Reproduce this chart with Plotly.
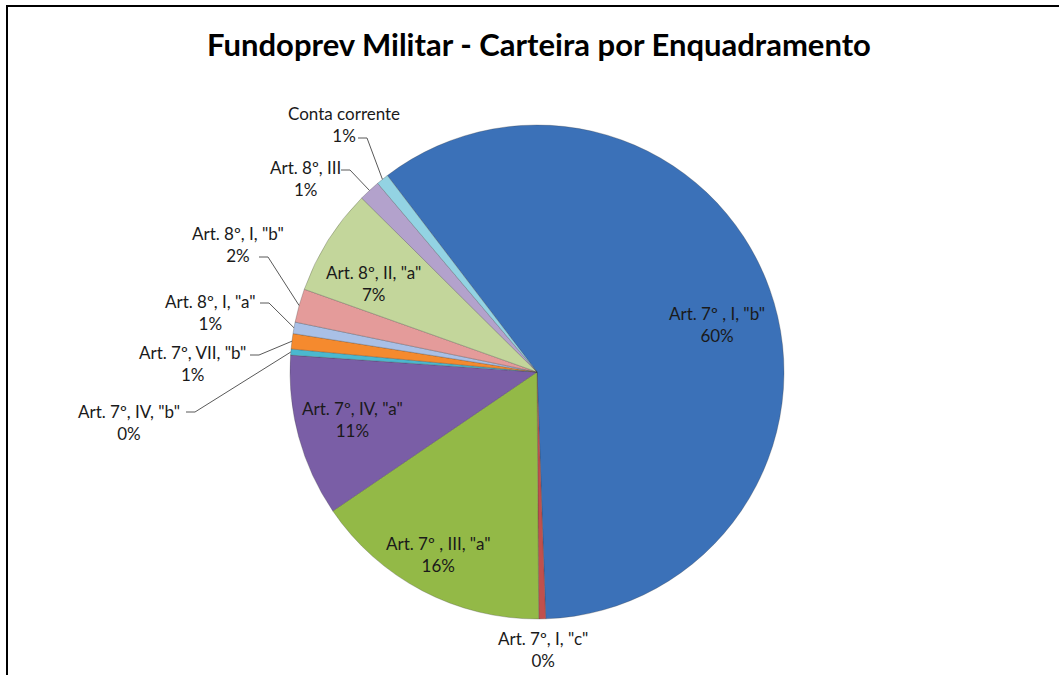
import math
import plotly.graph_objects as go

# ---------------- data ----------------
categories = [
    'Art. 7º , I, "b"',
    'Art. 7º, I, "c"',
    'Art. 7º , III, "a"',
    'Art. 7º, IV, "a"',
    'Art. 7º, IV, "b"',
    'Art. 7º, VII, "b"',
    'Art. 8º, I, "a"',
    'Art. 8º, I, "b"',
    'Art. 8º, II, "a"',
    'Art. 8º, III',
    'Conta corrente',
]
shares = [59.8, 0.45, 15.6, 10.6, 0.4, 1.0, 0.75, 2.2, 7.0, 1.4, 0.8]
title_text = "Fundoprev Militar - Carteira por Enquadramento"

# ---------------- styles / layout ----------------
W, H = 1059, 675
OFF = 0                              # body margin removed via post_script
colors = ['#3B71B8', '#C0504D', '#93B947', '#7A5EA6', '#4BB8CF', '#F58A2E',
          '#A9C0E6', '#E49B9A', '#C3D69B', '#B3A2CC', '#93D3E3']
CX, CY, R = 537, 372, 247          # pie centre / radius in window pixels
ROT = -37.3                         # start angle of first slice (deg, clockwise from 12h)
FONT = "Lato"

# label centres (window pixels) : index -> (x, y)
label_pos = {
    0: (717, 325), 1: (543, 649), 2: (438, 554), 3: (352, 419),
    4: (129, 422), 5: (192, 364), 6: (210, 312), 7: (238, 245),
    8: (373, 283), 9: (305, 178), 10: (344, 125),
}
# leader start points (window pixels) for outside labels
leader_start = {
    4: (186, 412), 5: (250, 355), 6: (260, 303), 7: (259, 257),
    9: (341, 170), 10: (358, 138),
}

def px(x):
    return (x - OFF) / W

def py(y):
    return 1 - (y - OFF) / H

total = sum(shares)
fig = go.Figure()
fig.add_trace(go.Pie(
    labels=categories, values=shares, sort=False, direction='clockwise',
    rotation=ROT, textinfo='none', hoverinfo='label+percent',
    marker=dict(colors=colors, line=dict(color='rgba(60,60,60,0.35)', width=0.8)),
    domain=dict(x=[px(CX - R), px(CX + R)], y=[py(CY + R), py(CY - R)]),
    showlegend=False,
))

annotations = []
shapes = []
cum = 0.0
for i, (cat, v) in enumerate(zip(categories, shares)):
    mid = ROT + (cum + v / 2) / total * 360.0
    cum += v
    pct = round(v / total * 100)
    lx, ly = label_pos[i]
    annotations.append(dict(
        text=f"{cat}<br>{pct}%", x=px(lx), y=py(ly), xref='paper', yref='paper',
        showarrow=False, xanchor='center', yanchor='middle',
        font=dict(family=FONT, size=17, color='#1a1a1a'),
    ))
    if i in leader_start:
        a = math.radians(mid)
        tx = CX + R * math.sin(a)
        ty = CY - R * math.cos(a)
        sx, sy = leader_start[i]
        path = (f"M {px(sx)},{py(sy)} L {px(sx + 9)},{py(sy)} "
                f"L {px(tx)},{py(ty)}")
        shapes.append(dict(type='path', path=path, xref='paper', yref='paper',
                           line=dict(color='#595959', width=1)))

# chart-area border
shapes.append(dict(type='rect', xref='paper', yref='paper',
                   x0=px(7), x1=1.02, y0=-0.02, y1=py(6),
                   line=dict(color='black', width=2)))

fig.update_layout(
    width=W, height=H,
    margin=dict(l=0, r=0, t=0, b=0),
    paper_bgcolor='white', plot_bgcolor='white',
    title=dict(text=f"<b>{title_text}</b>", x=px(539), y=py(45),
               xanchor='center', yanchor='middle', xref='paper', yref='paper',
               font=dict(family=FONT, size=31, color='black')),
    annotations=annotations, shapes=shapes,
)

fig.write_html("out.html",
               config={"displayModeBar": False},
               post_script="document.body.style.margin='0';"
                           "document.body.style.overflow='hidden';")
